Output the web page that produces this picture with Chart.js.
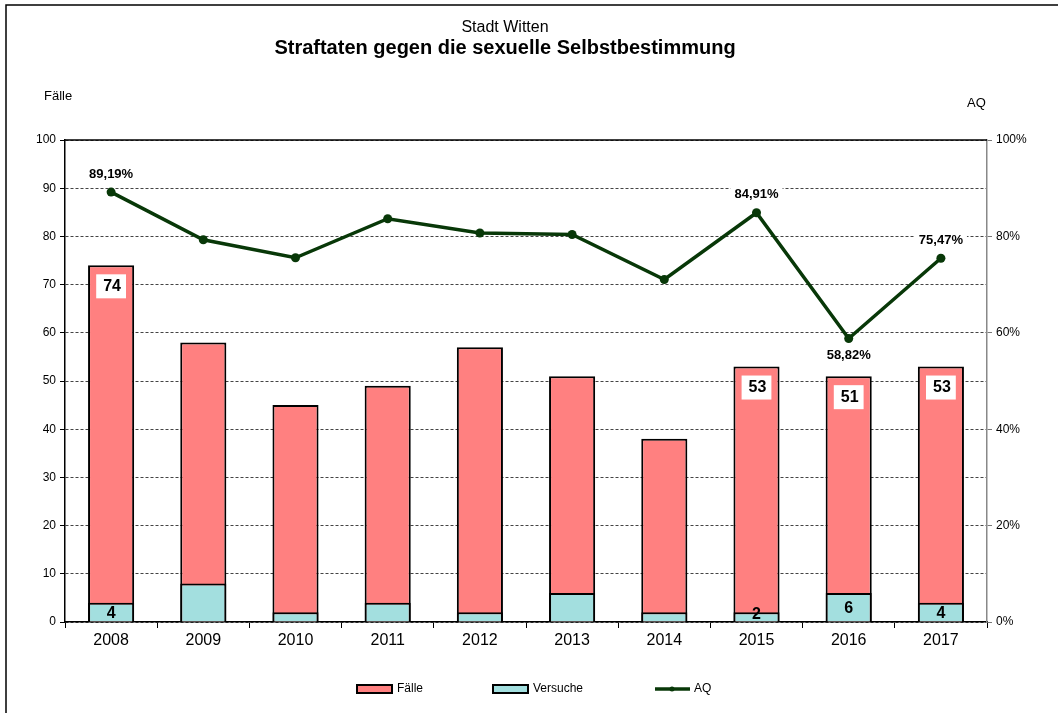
<!DOCTYPE html>
<html>
<head>
<meta charset="utf-8">
<script src="https://cdn.jsdelivr.net/npm/chart.js@4/dist/chart.umd.min.js"></script>
<style>
  body { margin: 0; background: #fff; }
</style>
</head>
<body>
<canvas id="myChart" width="1058" height="713"></canvas>
<script>
var years = ["2008", "2009", "2010", "2011", "2012", "2013", "2014", "2015", "2016", "2017"];
var faelle = [74, 58, 45, 49, 57, 51, 38, 53, 51, 53];
var versuche = [4, 8, 2, 4, 2, 6, 2, 2, 6, 4];
var aq = [89.19, 79.31, 75.56, 83.67, 80.70, 80.39, 71.05, 84.91, 58.82, 75.47];

// which points get a value label
var showFaelle = [true, false, false, false, false, false, false, true, true, true];
var showVersuche = [true, false, false, false, false, false, false, true, true, true];
var aqLabelPos = ["above", null, null, null, null, null, null, "above", "below", "above"];

var FONT = "'Liberation Sans', Arial, sans-serif";
var GREEN = "#083808";

var labelPlugin = {
  id: "labels",
  afterDatasetsDraw: function(chart) {
    var ctx = chart.ctx;
    ctx.save();
    ctx.textAlign = "center";
    ctx.textBaseline = "middle";

    // Fälle: white box with value near the top of the bar
    var m0 = chart.getDatasetMeta(0);
    ctx.font = "bold 16px " + FONT;
    m0.data.forEach(function(bar, i) {
      if (!showFaelle[i]) return;
      var txt = String(faelle[i]);
      var w = ctx.measureText(txt).width + 12;
      ctx.fillStyle = "#fff";
      ctx.fillRect(bar.x - w / 2, bar.y + 9, w, 24);
      ctx.fillStyle = "#000";
      ctx.fillText(txt, bar.x + 1, bar.y + 21.5);
    });

    // Versuche: plain value inside bar
    var m1 = chart.getDatasetMeta(1);
    m1.data.forEach(function(bar, i) {
      if (!showVersuche[i]) return;
      var y = Math.min((bar.y + bar.base) / 2 + 1, bar.base - 7);
      ctx.fillStyle = "#000";
      ctx.fillText(String(versuche[i]), bar.x, y);
    });

    // AQ
    var m2 = chart.getDatasetMeta(2);
    ctx.font = "bold 13px " + FONT;
    m2.data.forEach(function(pt, i) {
      if (!aqLabelPos[i]) return;
      var txt = aq[i].toFixed(2).replace(".", ",") + "%";
      var y = aqLabelPos[i] === "above" ? pt.y - 18 : pt.y + 17;
      var w = ctx.measureText(txt).width + 8;
      ctx.fillStyle = "#fff";
      ctx.fillRect(pt.x - w / 2, y - 8, w, 16);
      ctx.fillStyle = "#000";
      ctx.fillText(txt, pt.x, y);
    });
    ctx.restore();
  },
  afterDraw: function(chart) {
    var ctx = chart.ctx;
    var a = chart.chartArea;
    ctx.save();
    // solid top line of plot area
    ctx.strokeStyle = "#000";
    ctx.lineWidth = 1.5;
    ctx.beginPath();
    ctx.moveTo(a.left, a.top);
    ctx.lineTo(a.right, a.top);
    ctx.stroke();

    // outer frame
    ctx.beginPath();
    ctx.moveTo(6, 713);
    ctx.lineTo(6, 5);
    ctx.lineTo(1058, 5);
    ctx.stroke();

    // titles
    ctx.fillStyle = "#000";
    ctx.textAlign = "center";
    ctx.textBaseline = "middle";
    ctx.font = "16px " + FONT;
    ctx.fillText("Stadt Witten", 505, 28);
    ctx.font = "bold 20px " + FONT;
    ctx.fillText("Straftaten gegen die sexuelle Selbstbestimmung", 505, 48);

    ctx.font = "13px " + FONT;
    ctx.textAlign = "left";
    ctx.fillText("Fälle", 44, 96);
    ctx.fillText("AQ", 967, 103);

    // legend
    ctx.lineWidth = 2;
    ctx.fillStyle = "#ff8080";
    ctx.fillRect(357, 685, 35, 8);
    ctx.strokeRect(357, 685, 35, 8);
    ctx.fillStyle = "#a3dfdf";
    ctx.fillRect(493, 685, 35, 8);
    ctx.strokeRect(493, 685, 35, 8);
    ctx.strokeStyle = GREEN;
    ctx.lineWidth = 3.5;
    ctx.beginPath();
    ctx.moveTo(655, 689);
    ctx.lineTo(690, 689);
    ctx.stroke();
    ctx.fillStyle = GREEN;
    ctx.beginPath();
    ctx.arc(672, 689, 2.5, 0, Math.PI * 2);
    ctx.fill();
    ctx.fillStyle = "#000";
    ctx.font = "12px " + FONT;
    ctx.fillText("Fälle", 397, 689);
    ctx.fillText("Versuche", 533, 689);
    ctx.fillText("AQ", 694, 689);
    ctx.restore();
  }
};

var ctx = document.getElementById("myChart");

var chart = new Chart(ctx, {
  type: "bar",
  data: {
    labels: years,
    datasets: [
      {
        label: "Fälle",
        data: faelle,
        backgroundColor: "#ff8080",
        borderColor: "#000",
        borderWidth: 2,
        grouped: false,
        order: 3,
        yAxisID: "y"
      },
      {
        label: "Versuche",
        data: versuche,
        backgroundColor: "#a3dfdf",
        borderColor: "#000",
        borderWidth: 2,
        grouped: false,
        order: 2,
        yAxisID: "y"
      },
      {
        type: "line",
        label: "AQ",
        data: aq,
        borderColor: GREEN,
        backgroundColor: GREEN,
        borderWidth: 3.5,
        pointRadius: 4.5,
        pointBackgroundColor: GREEN,
        pointBorderWidth: 0,
        tension: 0,
        order: 1,
        yAxisID: "y1"
      }
    ]
  },
  options: {
    responsive: false,
    animation: false,
    layout: { padding: { top: 140, left: 0, right: 0, bottom: 0 } },
    datasets: {
      bar: { barPercentage: 0.5, categoryPercentage: 1.0 }
    },
    plugins: {
      legend: { display: false },
      title: { display: false },
      tooltip: { enabled: false }
    },
    scales: {
      x: {
        offset: true,
        grid: {
          offset: true,
          drawOnChartArea: false,
          drawTicks: true,
          tickLength: 6,
          color: "#000"
        },
        border: { color: "#000", width: 1.5 },
        ticks: {
          color: "#000",
          font: { family: FONT, size: 16 },
          padding: 3
        },
        afterFit: function(scale) { scale.height = 91; }
      },
      y: {
        position: "left",
        min: 0,
        max: 100,
        ticks: {
          stepSize: 10,
          color: "#000",
          font: { family: FONT, size: 12 },
          padding: 4
        },
        grid: {
          color: "#444",
          lineWidth: 1,
          tickLength: 5,
          tickColor: "#000"
        },
        border: { color: "#000", width: 1.5, dash: [3, 2] },
        afterFit: function(scale) { scale.width = 65; }
      },
      y1: {
        position: "right",
        min: 0,
        max: 100,
        ticks: {
          stepSize: 20,
          color: "#000",
          font: { family: FONT, size: 12 },
          padding: 4,
          callback: function(v) { return v + "%"; }
        },
        grid: {
          drawOnChartArea: false,
          tickLength: 5,
          color: "#777"
        },
        border: { color: "#888", width: 1.5 },
        afterFit: function(scale) { scale.width = 71; }
      }
    }
  },
  plugins: [labelPlugin]
});
</script>
</body>
</html>
